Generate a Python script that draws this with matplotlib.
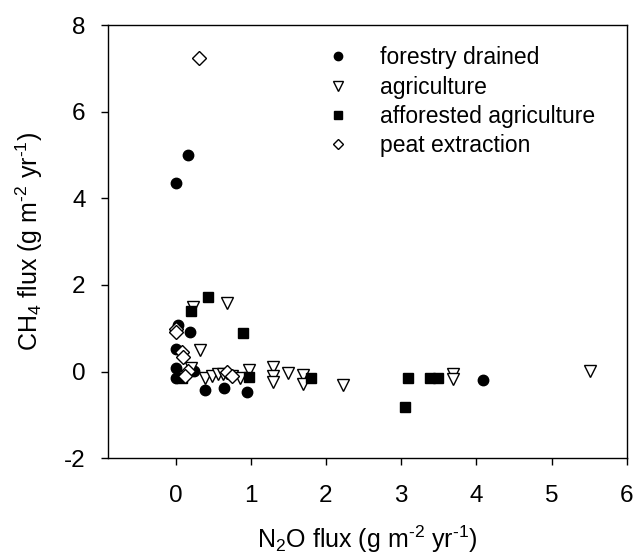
import matplotlib
matplotlib.use("Agg")
import matplotlib.pyplot as plt

plt.rcParams['font.family'] = ['Liberation Sans', 'DejaVu Sans']
plt.rcParams['axes.unicode_minus'] = False
plt.rcParams['mathtext.fontset'] = 'custom'
plt.rcParams['mathtext.rm'] = 'Liberation Sans'
plt.rcParams['mathtext.it'] = 'Liberation Sans'

forestry_x = [0.00, 0.16, 0.03, 0.19, 0.00, 0.00, 0.00, 0.25, 0.39, 0.64, 0.95, 4.09]
forestry_y = [4.36, 4.99, 1.08, 0.92, 0.53, 0.08, -0.14, 0.01, -0.42, -0.37, -0.48, -0.20]

agri_x = [0.32, 0.23, 0.69, 0.20, 0.39, 0.48, 0.56, 0.63, 0.75, 0.85, 0.97,
          1.29, 1.29, 1.29, 1.49, 1.69, 1.69, 2.22, 3.69, 3.69, 5.51]
agri_y = [0.49, 1.50, 1.58, 0.07, -0.14, -0.10, -0.05, -0.05, -0.10, -0.14, 0.04,
          0.10, -0.10, -0.25, -0.03, -0.07, -0.28, -0.32, -0.05, -0.18, 0.01]

affor_x = [0.20, 0.43, 0.89, 0.97, 0.09, 1.80, 3.09, 3.05, 3.38, 3.49]
affor_y = [1.39, 1.73, 0.90, -0.12, -0.16, -0.16, -0.16, -0.83, -0.16, -0.16]

peat_x = [0.31, 0.00, 0.00, 0.08, 0.10, 0.16, 0.12, 0.69, 0.75]
peat_y = [7.23, 0.99, 0.92, 0.44, 0.33, 0.02, -0.10, -0.02, -0.10]

x_ticks = [0, 1, 2, 3, 4, 5, 6]
y_ticks = [-2, 0, 2, 4, 6, 8]

fig = plt.figure(figsize=(6.35, 5.56), dpi=100)
ax = fig.add_axes([0.170, 0.176, 0.817, 0.779])

ms = 7.5
ax.plot(forestry_x, forestry_y, 'o', color='black', ms=ms, ls='none',
        label='forestry drained')
ax.plot(agri_x, agri_y, 'v', mfc='white', mec='black', mew=1.0, ms=ms + 1, ls='none',
        label='agriculture')
ax.plot(affor_x, affor_y, 's', color='black', ms=ms - 0.5, ls='none',
        label='afforested agriculture')
ax.plot(peat_x, peat_y, 'D', mfc='white', mec='black', mew=1.0, ms=ms - 0.5, ls='none',
        label='peat extraction')

ax.set_xlim(-0.9, 6)
ax.set_ylim(-2, 8)
ax.set_xticks(x_ticks)
ax.set_yticks(y_ticks)
ax.tick_params(direction='out', length=5, width=1, labelsize=17.5, colors='black',
               top=False, right=False)
ax.tick_params(axis='x', pad=14)
ax.tick_params(axis='y', pad=11)
for s in ax.spines.values():
    s.set_linewidth(1)

ax.set_xlabel(r'N$_2$O flux (g m$^{\text{-}2}$ yr$^{\text{-}1}$)', fontsize=18, labelpad=12)
ax.set_ylabel(r'CH$_4$ flux (g m$^{\text{-}2}$ yr$^{\text{-}1}$)', fontsize=18, labelpad=14)

leg = ax.legend(loc='upper left', bbox_to_anchor=(0.40, 0.951), frameon=False,
                fontsize=16.5, handletextpad=0.8, labelspacing=0.28, markerscale=0.8,
                borderaxespad=0, borderpad=0)

fig.savefig('out.png', dpi=100)
